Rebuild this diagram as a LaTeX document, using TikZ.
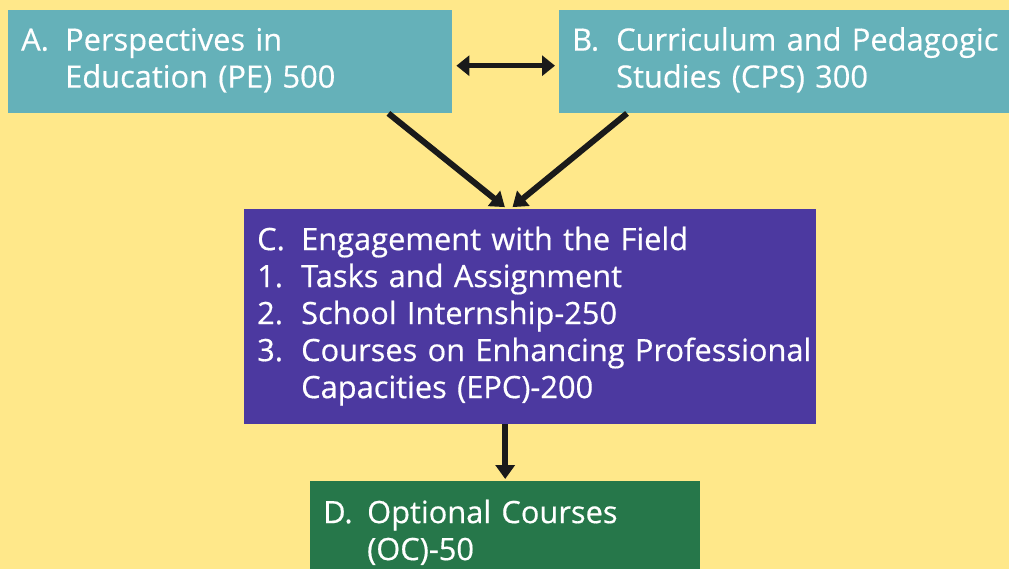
\documentclass[tikz,border=0pt]{standalone}
\usepackage{fontspec}
\setmainfont{Open Sans}[FakeBold=0.5]
\usepackage{xcolor}
\usepackage{tikz}
\usetikzlibrary{
  positioning,
  calc,
  arrows.meta
}
\definecolor{bgyellow}{HTML}{FFE88A}
\definecolor{tealbox}{HTML}{65B1B9}
\definecolor{purplebox}{HTML}{4C39A0}
\definecolor{greenbox}{HTML}{26774A}
\definecolor{arrowblack}{HTML}{1A1A1A}
\tikzset{
  box/.style={anchor=north west,inner xsep=13pt,inner ysep=0pt,align=left,
    text=white,font=\fontsize{30.8}{37}\selectfont},
  flow/.style={line width=6pt,draw=arrowblack,-{Triangle[length=14pt,width=19pt]}},
}
\newcommand{\entry}[1]{\begin{tabular}{@{}p{44pt}@{}l@{}}#1\end{tabular}}

\begin{document}
\begin{tikzpicture}[x=1pt,y=-1pt]
  % 背景
  \fill[bgyellow] (0,0) rectangle (1009,569);
  \useasboundingbox (0,0) rectangle (1009,569);
  \clip (0,0) rectangle (1009,569);
  % 箱
  \node[box,fill=tealbox,text width=418pt,minimum height=103pt] (A) at (8,10)
    {\entry{A.&Perspectives in\\ &Education (PE) 500}};
  \node[box,fill=tealbox,text width=440pt,minimum height=103pt] (B) at (559,10)
    {\entry{B.&Curriculum and Pedagogic\\ &Studies (CPS) 300}};
  \node[box,fill=purplebox,text width=546pt,minimum height=215pt] (C) at (244,209)
    {\entry{C.&Engagement with the Field\\ 1.&Tasks and Assignment\\ 2.&School Internship-250\\
      3.&Courses on Enhancing Professional\\ &Capacities (EPC)-200}};
  \node[box,fill=greenbox,text width=364pt,minimum height=106pt] (D) at (310,481)
    {\entry{D.&Optional Courses\\ &(OC)-50}};
  % 矢印
  \draw[line width=5.5pt,draw=arrowblack,{Triangle[length=13pt,width=20pt]}-{Triangle[length=13pt,width=20pt]},
    shorten <=4pt,shorten >=4pt] ([yshift=-4pt]A.east) -- ([yshift=-4pt]B.west);
  \draw[flow,shorten >=3pt] ([xshift=-64pt]A.south east) -- ([xshift=-23pt]C.north);
  \draw[flow,shorten >=3pt] ([xshift=68pt]B.south west) -- ([xshift=-20pt]C.north);
  \draw[flow,shorten >=2pt] (C.south -| D.north) -- (D.north);
\end{tikzpicture}
\end{document}
